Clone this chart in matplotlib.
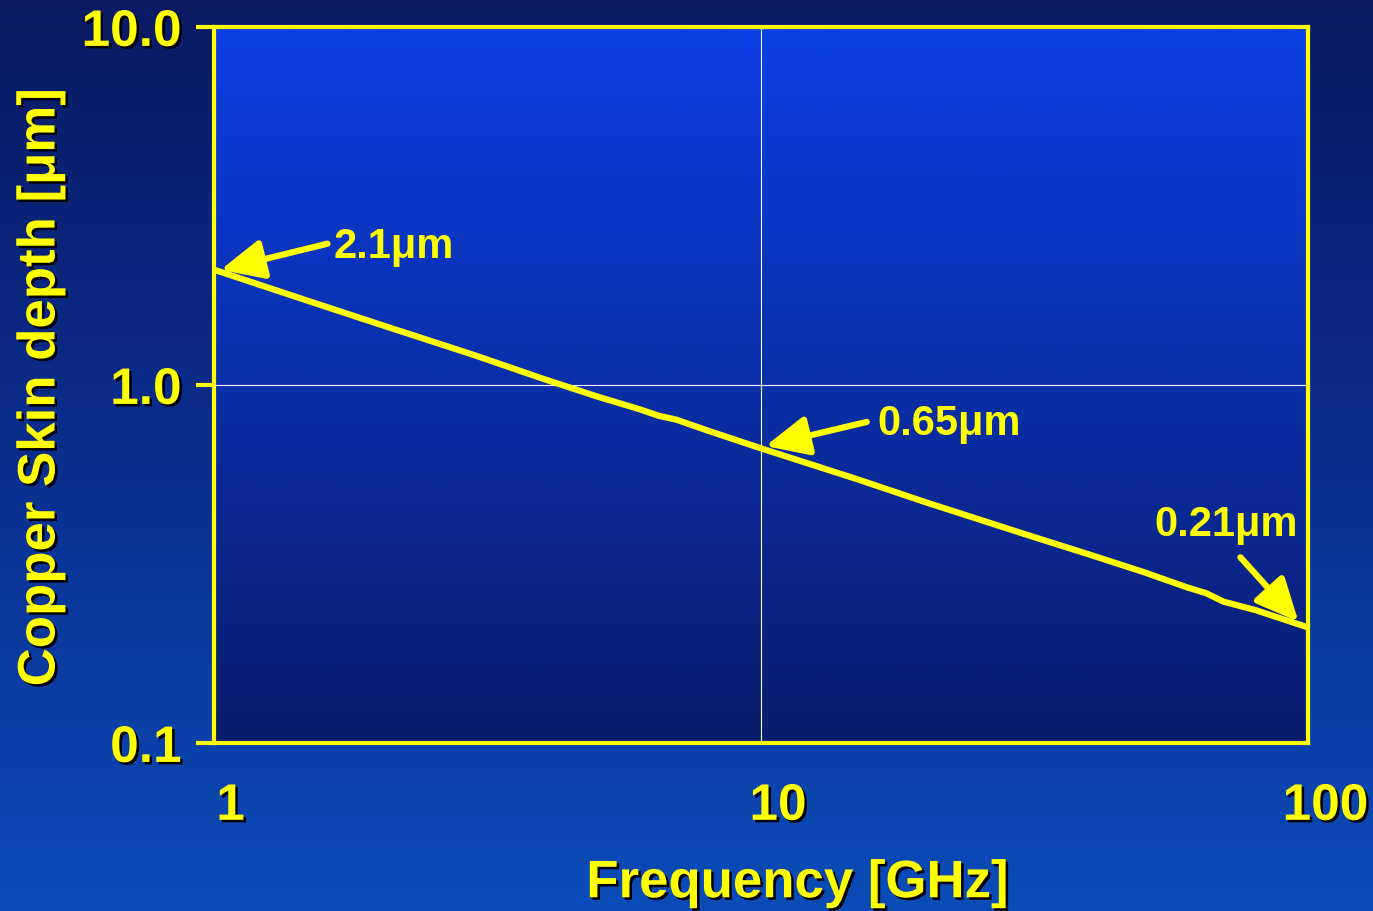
import numpy as np
import matplotlib
matplotlib.use("Agg")
from matplotlib import pyplot as plt
from matplotlib.colors import LinearSegmentedColormap
import matplotlib.patheffects as pe

# skin depth of copper
freq = [1, 1.5, 2, 3, 4, 5, 6, 6.5, 7, 8, 10, 15, 20, 30, 40, 50, 60, 65, 70, 80, 100]
depth = [2.1, 1.71, 1.48, 1.21, 1.04, 0.93, 0.855, 0.82, 0.80, 0.745, 0.665, 0.545, 0.47,
         0.385, 0.335, 0.30, 0.272, 0.262, 0.248, 0.235, 0.21]

xticks = [1, 10, 100]
xticklabels = ['1', '10', '100']
yticks = [0.1, 1.0, 10.0]
yticklabels = ['0.1', '1.0', '10.0']

# annotations: label, text pos, arrow tail, arrow tip, alignment
notes = ['2.1\u03bcm', '0.65\u03bcm', '0.21\u03bcm']
note_pos = [(1.656, 2.43), (16.3, 0.778), (95.5, 0.406)]
note_ha = ['left', 'left', 'right']
arrow_tail = [(1.615, 2.48), (15.6, 0.788), (75.1, 0.33)]
arrow_tip = [(1.03, 2.095), (10.19, 0.675), (95.9, 0.218)]

yellow = '#FFFF00'
plt.rcParams['font.family'] = ['Liberation Sans', 'DejaVu Sans']
plt.rcParams['font.weight'] = 'bold'

fig = plt.figure(figsize=(13.73, 9.11), dpi=100)

# slide background
bg = fig.add_axes([0, 0, 1, 1], zorder=-2)
bg_cmap = LinearSegmentedColormap.from_list('bg', ['#0B4CB8', '#0A2E8E', '#0B1A62'])
bg.imshow(np.linspace(0, 1, 256).reshape(-1, 1), cmap=bg_cmap, aspect='auto',
          extent=[0, 1, 0, 1], origin='lower')
bg.axis('off')

pos = [0.1555, 0.1845, 0.7975, 0.786]
# plot area gradient
pa = fig.add_axes(pos, zorder=-1)
pa_cmap = LinearSegmentedColormap.from_list('pa', ['#0A1D6C', '#0A2FA8', '#0A40E6'])
pa.imshow(np.linspace(0, 1, 256).reshape(-1, 1), cmap=pa_cmap, aspect='auto',
          extent=[0, 1, 0, 1], origin='lower')
pa.axis('off')

ax = fig.add_axes(pos)
ax.set_facecolor('none')
ax.set_xscale('log')
ax.set_yscale('log')
ax.set_xlim(1, 100)
ax.set_ylim(0.1, 10)

ax.plot(freq, depth, color=yellow, lw=4.5, solid_capstyle='butt', zorder=3)

ax.grid(True, which='major', color='white', lw=0.8)
ax.minorticks_off()

for s in ax.spines.values():
    s.set_color(yellow)
    s.set_linewidth(3)

shadow = [pe.withSimplePatchShadow(offset=(1.8, -1.8), shadow_rgbFace='black', alpha=1.0)]

ax.set_yticks(yticks)
ax.set_yticklabels(yticklabels)
ax.set_xticks(xticks)
ax.set_xticklabels(xticklabels)
ax.tick_params(axis='y', length=13, width=3, color=yellow, pad=10,
               labelsize=37, labelcolor=yellow)
ax.tick_params(axis='x', length=0, pad=28, labelsize=37, labelcolor=yellow)
for lab in ax.get_yticklabels():
    lab.set_path_effects(shadow)
    lab.set_fontweight('bold')
for lab in ax.get_xticklabels():
    lab.set_path_effects(shadow)
    lab.set_fontweight('bold')
    lab.set_transform(lab.get_transform() +
                      matplotlib.transforms.ScaledTranslation(17 / 100, 0, fig.dpi_scale_trans))

ax.set_xlabel('Frequency [GHz]', fontsize=38, fontweight='bold', color=yellow,
              path_effects=shadow, va='center')
ax.xaxis.set_label_coords(0.533, -0.196)
ax.set_ylabel('Copper Skin depth [\u03bcm]', fontsize=38, fontweight='bold', color=yellow,
              path_effects=shadow, va='center')
ax.yaxis.set_label_coords(-0.158, 0.496)

for txt, p, ha, tail, tip in zip(notes, note_pos, note_ha, arrow_tail, arrow_tip):
    ax.text(p[0], p[1], txt, fontsize=30, fontweight='bold', color=yellow,
            ha=ha, va='center', zorder=5)
    ax.annotate('', xy=tip, xytext=tail,
                arrowprops=dict(arrowstyle='-|>,head_length=1.3,head_width=0.6',
                                mutation_scale=20, color=yellow, lw=4.5,
                                shrinkA=0, shrinkB=0), zorder=5)

fig.savefig('out.png', dpi=100)
